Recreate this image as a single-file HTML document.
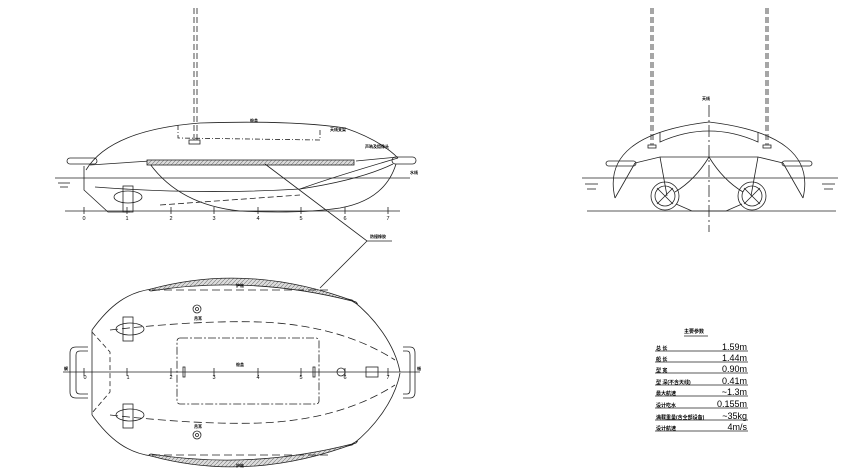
<!DOCTYPE html>
<html><head><meta charset="utf-8"><style>
html,body{margin:0;padding:0;background:#fff;}
svg{display:block;}
text{font-family:"Liberation Sans","Noto Sans CJK SC",sans-serif;fill:#000;}
</style></head><body>
<svg width="854" height="475" viewBox="0 0 854 475" xmlns="http://www.w3.org/2000/svg">
<defs>
<pattern id="hatch" width="4" height="4" patternUnits="userSpaceOnUse"><rect width="4" height="4" fill="#ddd"/><path d="M0 4L4 0" stroke="#777" stroke-width="0.6"/></pattern>
</defs>
<g fill="none" stroke="#222" stroke-width="0.8">
<!-- SIDE VIEW -->
<line x1="194" y1="8" x2="194" y2="140" stroke-dasharray="6,3"/>
<line x1="197" y1="8" x2="197" y2="140" stroke-dasharray="6,3"/>
<rect x="189" y="140" width="11" height="4"/>
<path d="M86 170 Q110 130 200 123 Q290 120 345 128 Q380 140 398 158"/>
<path d="M178 125 L178 138 L320 140 L320 130" stroke-dasharray="5,2,1,2"/>
<path d="M84 166 L84 190 L108 212 L130 212"/>
<path d="M90 165 L150 161"/>
<path d="M356 161 L398 157"/>
<path d="M95 187 Q200 195 300 189 Q330 178 398 158"/>
<path d="M300 189 Q360 180 393 164"/>
<path d="M150 164 Q180 205 240 211 Q300 214 340 208 Q385 200 396 164"/>
<path d="M160 205 L300 195" stroke-dasharray="6,3"/>
<ellipse cx="128" cy="197" rx="14" ry="6"/>
<rect x="123" y="186" width="10" height="26"/>
<rect x="147" y="160" width="207" height="5" fill="url(#hatch)"/>
<rect x="67" y="158" width="30" height="6" rx="3"/>
<rect x="392" y="157" width="24" height="7" rx="3.5"/>
<line x1="55" y1="178" x2="410" y2="178"/>
<line x1="58" y1="183" x2="70" y2="183"/><line x1="60" y1="187" x2="68" y2="187"/>
<line x1="65" y1="211" x2="400" y2="211"/>
<g>
<line x1="84" y1="207" x2="84" y2="214"/><line x1="127" y1="207" x2="127" y2="214"/><line x1="171" y1="207" x2="171" y2="214"/><line x1="214" y1="207" x2="214" y2="214"/><line x1="258" y1="207" x2="258" y2="214"/><line x1="301" y1="207" x2="301" y2="214"/><line x1="345" y1="207" x2="345" y2="214"/><line x1="388" y1="207" x2="388" y2="214"/>
</g>
<!-- leader -->
<path d="M265 164 L367 241 L392 241"/>
<path d="M367 241 L320 288"/>
<!-- TOP VIEW -->
<path d="M92 330 C110 305 128 292 152 289 Q250 276 352 300 C375 318 395 345 400 372"/>
<path d="M92 415 C110 440 128 453 152 456 Q250 469 352 445 C375 427 395 400 400 373"/>
<path d="M92 330 L92 415"/>
<path d="M151 289 Q250 262 356 302 Q360 306 352 301 Q250 275 151 291 Q147 290 151 289 Z" fill="url(#hatch)"/>
<path d="M151 456 Q250 483 356 443 Q360 439 352 444 Q250 470 151 454 Q147 455 151 456 Z" fill="url(#hatch)"/>
<line x1="152" y1="290" x2="330" y2="290" stroke-dasharray="8,4"/>
<line x1="152" y1="455" x2="330" y2="455" stroke-dasharray="8,4"/>
<path d="M110 330 Q200 320 260 322 Q340 325 395 360" stroke-dasharray="8,4"/>
<path d="M110 415 Q200 425 260 423 Q340 420 395 385" stroke-dasharray="8,4"/>
<path d="M92 332 L110 352 L110 392 L92 413" stroke-dasharray="5,3"/>
<rect x="177" y="338" width="142" height="66" rx="3" stroke-dasharray="8,2,2,2"/>
<path d="M88 347 L76 347 Q70 347 70 353 L70 392 Q70 398 76 398 L88 398"/>
<path d="M88 351 L80 351 Q76 351 76 355 L76 390 Q76 394 80 394 L88 394"/>
<path d="M403 347 L410 347 Q415 347 415 353 L415 392 Q415 398 410 398 L403 398"/>
<path d="M403 351 L407 351 Q410 351 410 355 L410 390 Q410 394 407 394 L403 394"/>
<line x1="63" y1="372" x2="420" y2="372"/>
<g>
<line x1="84" y1="368" x2="84" y2="376"/><line x1="127" y1="368" x2="127" y2="376"/><line x1="171" y1="368" x2="171" y2="376"/><line x1="214" y1="368" x2="214" y2="376"/><line x1="258" y1="368" x2="258" y2="376"/><line x1="301" y1="368" x2="301" y2="376"/><line x1="345" y1="368" x2="345" y2="376"/><line x1="388" y1="368" x2="388" y2="376"/>
</g>
<rect x="183" y="367" width="2" height="10"/><rect x="313" y="367" width="2" height="10"/>
<circle cx="341" cy="372" r="4"/>
<rect x="366" y="367" width="12" height="10"/>
<ellipse cx="130" cy="329" rx="14" ry="6"/><rect x="123" y="317" width="10" height="24"/>
<ellipse cx="130" cy="415" rx="14" ry="6"/><rect x="123" y="404" width="10" height="24"/>
<circle cx="197" cy="309" r="4"/><circle cx="197" cy="309" r="1.5"/>
<circle cx="197" cy="435" r="4"/><circle cx="197" cy="435" r="1.5"/>
<!-- FRONT VIEW -->
<line x1="651" y1="8" x2="651" y2="145" stroke-dasharray="6,3"/><line x1="653" y1="8" x2="653" y2="145" stroke-dasharray="6,3"/>
<line x1="766" y1="8" x2="766" y2="145" stroke-dasharray="6,3"/><line x1="768" y1="8" x2="768" y2="145" stroke-dasharray="6,3"/>
<rect x="648" y="145" width="8" height="3"/><rect x="763" y="145" width="8" height="3"/>
<line x1="709" y1="105" x2="709" y2="232" stroke-dasharray="12,3,2,3"/>
<path d="M615 198 Q600 135 709 122 Q818 135 803 198"/>
<path d="M615 198 L635 163"/><path d="M803 198 L783 163"/>
<path d="M660 132 L660 142 Q709 120 758 142 L758 132"/>
<path d="M635 163 L660 157 L758 157 L783 163"/>
<path d="M660 157 L667 196 M758 157 L751 196"/>
<path d="M709 157 Q695 180 675 192 M709 157 Q723 180 743 192"/>
<path d="M676 204 L692 211 L726 211 L742 204"/>
<rect x="606" y="161" width="30" height="5" rx="2.5"/>
<rect x="782" y="161" width="30" height="5" rx="2.5"/>
<circle cx="665" cy="196" r="14"/><circle cx="665" cy="196" r="10"/>
<circle cx="752" cy="196" r="14"/><circle cx="752" cy="196" r="10"/>
<path d="M657 188 L673 204 M673 188 L657 204 M744 188 L760 204 M760 188 L744 204"/>
<line x1="582" y1="178" x2="838" y2="178"/>
<line x1="585" y1="184" x2="598" y2="184"/><line x1="587" y1="189" x2="596" y2="189"/>
<line x1="822" y1="184" x2="835" y2="184"/><line x1="824" y1="189" x2="833" y2="189"/>
<line x1="587" y1="211" x2="836" y2="211"/>
<!-- table -->
<line x1="684" y1="336" x2="708" y2="336"/>
<g stroke-width="0.7">
<line x1="655" y1="351" x2="748" y2="351"/><line x1="655" y1="362" x2="748" y2="362"/><line x1="655" y1="373" x2="748" y2="373"/><line x1="655" y1="385" x2="748" y2="385"/><line x1="655" y1="396" x2="748" y2="396"/><line x1="655" y1="408" x2="748" y2="408"/><line x1="655" y1="420" x2="748" y2="420"/><line x1="655" y1="431" x2="748" y2="431"/>
</g>
</g>
<g font-size="5.5">
<text x="84" y="220" text-anchor="middle">0</text><text x="127" y="220" text-anchor="middle">1</text><text x="171" y="220" text-anchor="middle">2</text><text x="214" y="220" text-anchor="middle">3</text><text x="258" y="220" text-anchor="middle">4</text><text x="301" y="220" text-anchor="middle">5</text><text x="345" y="220" text-anchor="middle">6</text><text x="388" y="220" text-anchor="middle">7</text>
<text x="85" y="379" text-anchor="middle">0</text><text x="128" y="379" text-anchor="middle">1</text><text x="171" y="379" text-anchor="middle">2</text><text x="214" y="379" text-anchor="middle">3</text><text x="258" y="379" text-anchor="middle">4</text><text x="301" y="379" text-anchor="middle">5</text><text x="345" y="379" text-anchor="middle">6</text><text x="388" y="379" text-anchor="middle">7</text>
</g>
<g font-size="4" font-weight="bold">
<text x="250" y="122">舱盖</text><text x="330" y="131">天线支架</text><text x="365" y="148">声呐及摄像头</text>
<text x="410" y="174">水线</text><text x="370" y="238">防撞橡胶</text>
<text x="236" y="287">护舷</text><text x="236" y="467">护舷</text>
<text x="236" y="366">舱盖</text><text x="194" y="320">吊耳</text><text x="194" y="428">吊耳</text>
<text x="64" y="370">艉</text><text x="417" y="370">艏</text>
<text x="702" y="100">天线</text>
</g>
<g font-size="5" font-weight="bold">
<text x="684" y="333">主要参数</text>
<text x="656" y="350">总 长</text><text x="656" y="361">船 长</text><text x="656" y="372">型 宽</text><text x="656" y="384">型 深(不含天线)</text><text x="656" y="395">最大航速</text><text x="656" y="407">设计吃水</text><text x="656" y="419">满载重量(含全部设备)</text><text x="656" y="430">设计航速</text>
</g>
<g font-size="9" text-anchor="end">
<text x="747" y="350">1.59m</text><text x="747" y="361">1.44m</text><text x="747" y="372">0.90m</text><text x="747" y="384">0.41m</text><text x="747" y="395">~1.3m</text><text x="747" y="407">0.155m</text><text x="747" y="419">~35kg</text><text x="747" y="430">4m/s</text>
</g>
</svg>
</body></html>
